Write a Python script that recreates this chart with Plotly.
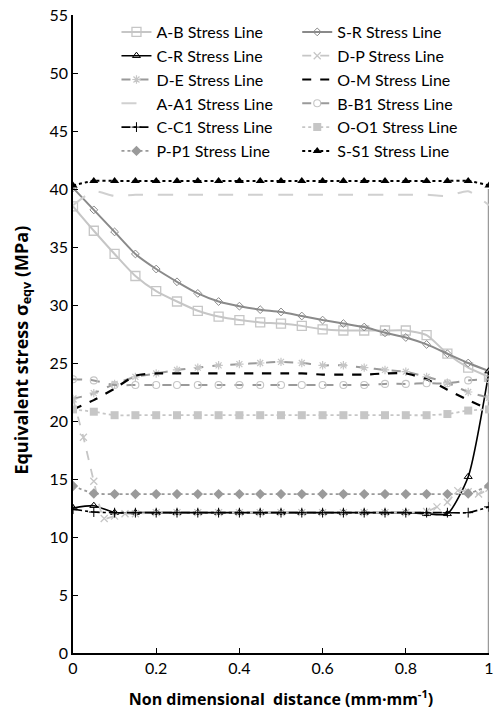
import plotly.graph_objects as go

# ---- data ----
x = [0, 0.05, 0.1, 0.15, 0.2, 0.25, 0.3, 0.35, 0.4, 0.45, 0.5,
     0.55, 0.6, 0.65, 0.7, 0.75, 0.8, 0.85, 0.9, 0.95, 1.0]

A_B = [38.5, 36.4, 34.4, 32.5, 31.2, 30.3, 29.5, 29.0, 28.7, 28.5, 28.4,
       28.2, 27.9, 27.8, 27.8, 27.8, 27.8, 27.4, 25.8, 24.6, 23.8]
S_R = [40.1, 38.2, 36.3, 34.4, 33.1, 32.0, 31.0, 30.3, 29.9, 29.6, 29.4,
       29.05, 28.7, 28.4, 28.1, 27.6, 27.2, 26.6, 25.8, 25.0, 24.3]
C_R = [12.5, 12.7, 12.1, 12.1, 12.1, 12.1, 12.1, 12.1, 12.1, 12.1, 12.1,
       12.1, 12.1, 12.1, 12.1, 12.1, 12.1, 12.0, 12.0, 15.2, 24.3]
x_DP = [0, 0.025, 0.05, 0.075, 0.1, 0.125, 0.15, 0.2, 0.25, 0.3, 0.35, 0.4,
        0.45, 0.5, 0.55, 0.6, 0.65, 0.7, 0.75, 0.8, 0.85, 0.875, 0.9,
        0.925, 0.95, 0.975, 1.0]
D_P = [21.9, 18.6, 14.8, 11.6, 11.8, 12.0, 12.0, 12.1, 12.1, 12.1, 12.1, 12.1,
       12.1, 12.1, 12.1, 12.1, 12.1, 12.1, 12.1, 12.1, 12.2, 12.6, 13.0,
       14.0, 13.9, 13.7, 14.2]
D_E = [21.9, 22.4, 23.2, 23.8, 24.1, 24.4, 24.6, 24.8, 24.9, 25.0, 25.1,
       25.0, 24.8, 24.8, 24.6, 24.4, 24.25, 23.8, 23.3, 22.5, 22.0]
O_M = [21.0, 21.8, 22.8, 23.9, 24.1, 24.1, 24.1, 24.1, 24.1, 24.1, 24.1,
       24.1, 24.0, 24.0, 24.0, 24.1, 24.1, 23.6, 22.7, 21.8, 21.0]
A_A1 = [38.6, 39.8, 39.4, 39.5, 39.5, 39.5, 39.5, 39.5, 39.5, 39.5, 39.5,
        39.5, 39.5, 39.5, 39.5, 39.5, 39.5, 39.5, 39.4, 39.8, 38.6]
B_B1 = [23.6, 23.5, 23.1, 23.1, 23.1, 23.1, 23.1, 23.1, 23.1, 23.1, 23.1,
        23.1, 23.1, 23.1, 23.1, 23.2, 23.2, 23.25, 23.25, 23.5, 23.6]
C_C1 = [12.4, 12.15, 12.1, 12.1, 12.1, 12.1, 12.1, 12.1, 12.1, 12.1, 12.1,
        12.1, 12.1, 12.1, 12.1, 12.1, 12.1, 12.1, 12.1, 12.1, 12.6]
O_O1 = [21.0, 20.8, 20.5, 20.5, 20.5, 20.5, 20.5, 20.5, 20.5, 20.5, 20.5,
        20.5, 20.5, 20.5, 20.5, 20.5, 20.5, 20.5, 20.6, 20.9, 21.0]
P_P1 = [14.4, 13.75, 13.7, 13.7, 13.7, 13.7, 13.7, 13.7, 13.7, 13.7, 13.7,
        13.7, 13.7, 13.7, 13.7, 13.7, 13.7, 13.7, 13.7, 13.75, 14.4]
S_S1 = [40.3, 40.7, 40.7, 40.7, 40.7, 40.7, 40.7, 40.7, 40.7, 40.7, 40.7,
        40.7, 40.7, 40.7, 40.7, 40.7, 40.7, 40.7, 40.7, 40.7, 40.3]

y_ticks = [0, 5, 10, 15, 20, 25, 30, 35, 40, 45, 50, 55]
x_ticks = [0, 0.2, 0.4, 0.6, 0.8, 1]
x_tick_text = ["0", "0.2", "0.4", "0.6", "0.8", "1"]

LIGHT = "#c6c6c6"
MID = "#9a9a9a"
DARK = "#8a8a8a"
FONT = "Lato"
TFONT = "Open Sans"

# (name, legend column, xs, ys, mode, line, marker)
series = [
    ("A-B Stress Line", "legend", x, A_B, "lines+markers", dict(color=LIGHT, width=2, dash="solid"),
     dict(symbol="square-open", size=9, color=LIGHT, line=dict(width=1.3, color=LIGHT))),
    ("S-R Stress Line", "legend2", x, S_R, "lines+markers", dict(color=DARK, width=2, dash="solid"),
     dict(symbol="diamond-open", size=6, color=DARK, line=dict(width=1, color=DARK))),
    ("C-R Stress Line", "legend", x, C_R, "lines+markers", dict(color="black", width=1.6, dash="solid"),
     dict(symbol="triangle-up-open", size=7, color="black", line=dict(width=1, color="black"))),
    ("D-P Stress Line", "legend2", x_DP, D_P, "lines+markers", dict(color=LIGHT, width=1.8, dash="dash"),
     dict(symbol="x-thin-open", size=7, color=LIGHT, line=dict(width=1.3, color=LIGHT))),
    ("D-E Stress Line", "legend", x, D_E, "lines+markers", dict(color=MID, width=2, dash="dash"),
     dict(symbol="asterisk-open", size=7, color=LIGHT, line=dict(width=1.2, color=LIGHT))),
    ("O-M Stress Line", "legend2", x, O_M, "lines", dict(color="black", width=2.2, dash="dash"),
     dict(size=3, color="black")),
    ("A-A1 Stress Line", "legend", x, A_A1, "lines", dict(color="#d0d0d0", width=2, dash="longdash"),
     dict(size=3, color="#d0d0d0")),
    ("B-B1 Stress Line", "legend2", x, B_B1, "lines+markers", dict(color=MID, width=2, dash="dash"),
     dict(symbol="circle-open", size=7, color=LIGHT, line=dict(width=1.1, color=LIGHT))),
    ("C-C1 Stress Line", "legend", x, C_C1, "lines+markers", dict(color="black", width=1.6, dash="dashdot"),
     dict(symbol="cross-thin-open", size=7, color="black", line=dict(width=1, color="black"))),
    ("O-O1 Stress Line", "legend2", x, O_O1, "lines+markers", dict(color=LIGHT, width=1.8, dash="dot"),
     dict(symbol="square", size=8, color=LIGHT, line=dict(width=0))),
    ("P-P1 Stress Line", "legend", x, P_P1, "lines+markers", dict(color=MID, width=1.8, dash="dot"),
     dict(symbol="diamond", size=8, color=MID, line=dict(width=0))),
    ("S-S1 Stress Line", "legend2", x, S_S1, "lines+markers", dict(color="black", width=2, dash="dot"),
     dict(symbol="triangle-up", size=8, color="black", line=dict(width=0))),
]

fig = go.Figure()
for name, leg, xs, ys, mode, ln, mk in series:
    fig.add_trace(go.Scatter(x=xs, y=ys, name=name, mode=mode, legend=leg,
                             line=dict(shape="spline", smoothing=0.6, **ln),
                             marker=mk))

# right-hand grey line at x = 1
fig.add_shape(type="line", x0=1, x1=1, y0=0, y1=40, xref="x", yref="y",
              line=dict(color="#9a9a9a", width=2.5), layer="below")

# y-axis title as a rotated annotation (placed a bit below the axis middle, as in the reference)
fig.add_annotation(text="<b>Equivalent stress σ<sub>eqv</sub> (MPa)</b>",
                   xref="paper", yref="paper", x=-0.121, y=0.475,
                   xanchor="center", yanchor="middle", textangle=-90,
                   showarrow=False, font=dict(family=TFONT, size=18, color="black"))

legend_common = dict(orientation="v", y=1.0, xanchor="left", yanchor="top",
                     font=dict(family=FONT, size=16, color="black"),
                     bgcolor="rgba(0,0,0,0)", itemwidth=30, tracegroupgap=0)

fig.update_layout(
    width=496, height=712,
    margin=dict(l=73, r=2, t=15, b=59),
    plot_bgcolor="white", paper_bgcolor="white",
    font=dict(family=FONT, size=16, color="black"),
    showlegend=True,
    legend=dict(x=0.1045, **legend_common),
    legend2=dict(x=0.539, **legend_common),
    xaxis=dict(range=[0, 1], tickvals=x_ticks, ticktext=x_tick_text,
               ticks="inside", ticklen=5, tickcolor="black", ticklabeloverflow="allow",
               showline=True, linecolor="black", linewidth=1.5, showgrid=False,
               zeroline=False, tickfont=dict(family=FONT, size=16),
               title=dict(text="<b>Non dimensional&nbsp;&nbsp;distance (mm·mm<sup>-1</sup>)</b>",
                          font=dict(family=TFONT, size=16), standoff=18)),
    yaxis=dict(range=[0, 55], tickvals=y_ticks, ticks="inside", ticklen=5,
               tickcolor="black", showline=True, linecolor="black", linewidth=1.5,
               showgrid=False, zeroline=False, tickfont=dict(family=FONT, size=16)),
)

fig.write_html("out.html")
